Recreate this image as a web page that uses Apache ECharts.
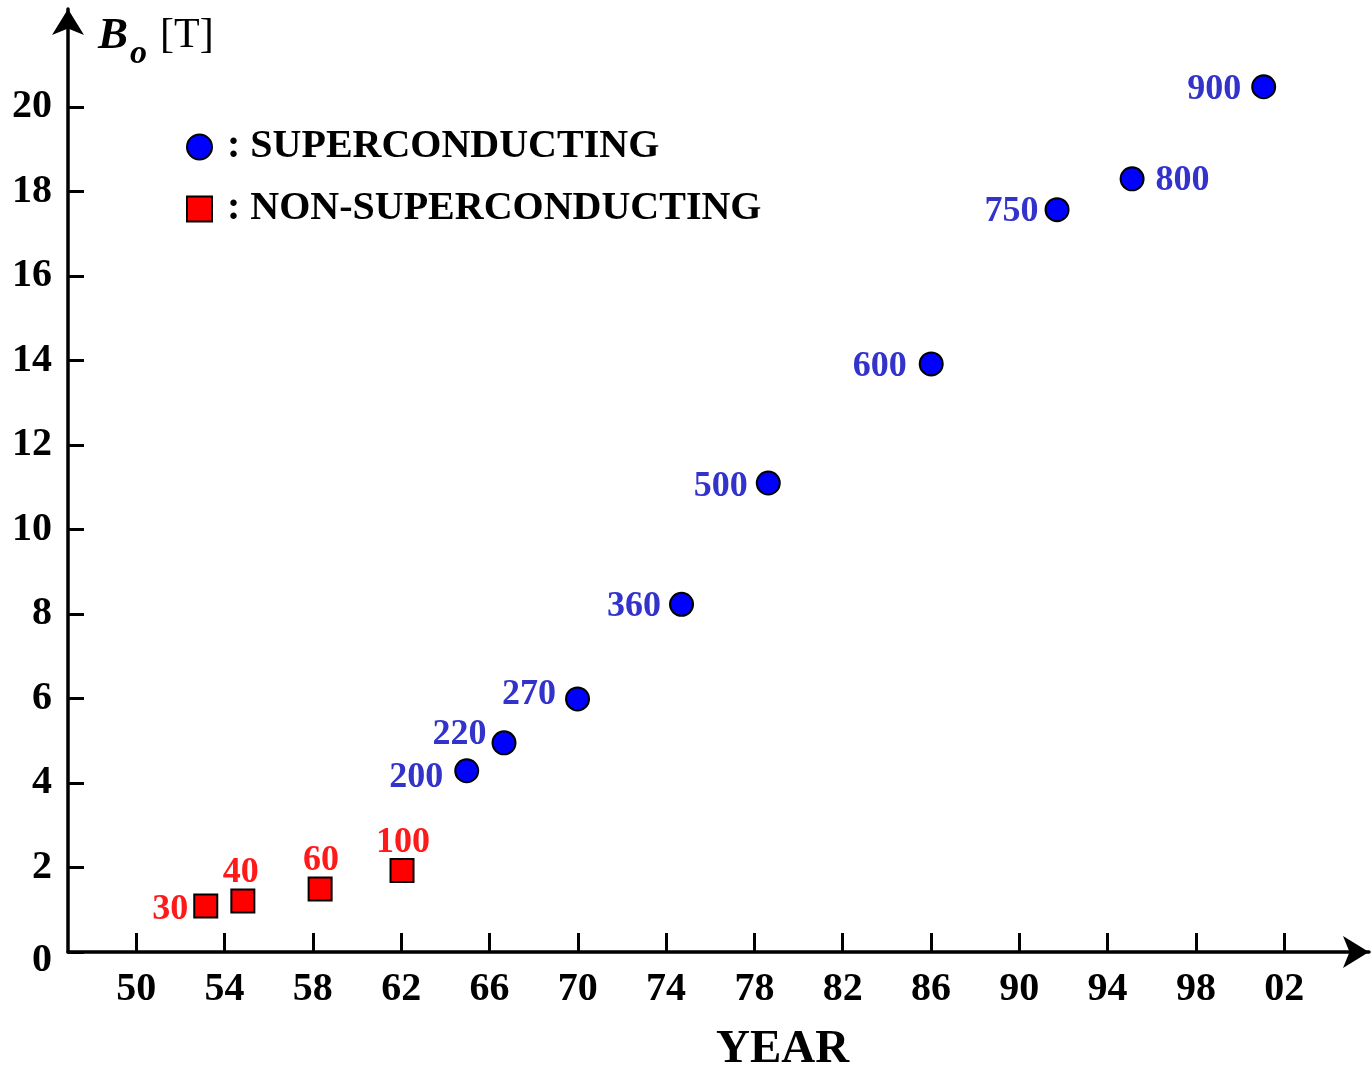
<!DOCTYPE html>
<html><head><meta charset="utf-8">
<script src="https://cdn.jsdelivr.net/npm/echarts@6/dist/echarts.min.js"></script>
<style>html,body{margin:0;padding:0;background:#fff}#c{width:1372px;height:1067px}</style>
</head><body><div id="c"></div>
<script>
// ---- data ----
const scYears  = [1964.97, 1966.66, 1969.99, 1974.70, 1978.63, 1986.01, 1991.71, 1995.11, 2001.07];
const scField  = [4.29, 4.95, 5.99, 8.23, 11.10, 13.92, 17.57, 18.30, 20.48];
const scEnergy = [200, 220, 270, 360, 500, 600, 750, 800, 900];
const ncYears  = [1953.15, 1954.83, 1958.33, 1962.04];
const ncField  = [1.09, 1.21, 1.49, 1.93];
const ncEnergy = [30, 40, 60, 100];
const xTicks = [1950, 1954, 1958, 1962, 1966, 1970, 1974, 1978, 1982, 1986, 1990, 1994, 1998, 2002];
const yTicks = [0, 2, 4, 6, 8, 10, 12, 14, 16, 18, 20];
const seriesNames = ['SUPERCONDUCTING', 'NON-SUPERCONDUCTING'];

// ---- label placement (style only): [position, distance, dx, dy] ----
const scLabelPlace = [['left',11,0,7],['left',5,0,-8],['left',9,0,-4],['left',8,0,2],['left',8,0,4],['left',12,0,3],['left',6,0,2],['right',11,0,2],['left',10,0,3]];
const ncLabelPlace = [['left',5,0,4],['top',-2,-2,0],['top',-2,1,0],['top',-3,1,0]];

const FONT = "'Liberation Serif','Times New Roman',serif";
function build(years, field, energy, place) {
  return years.map((y, i) => ({
    value: [y, field[i], energy[i]],
    label: { position: place[i][0], distance: place[i][1], offset: [place[i][2], place[i][3]] }
  }));
}
const chart = echarts.init(document.getElementById('c'), null, {renderer: 'canvas'});
const axisLine = { show: true, symbol: ['none', 'arrow'], symbolSize: [24, 26], lineStyle: { color: '#000', width: 3.5 } };
chart.setOption({
  animation: false,
  backgroundColor: '#fff',
  grid: { left: 68, right: 3, top: 9, bottom: 115, containLabel: false },
  xAxis: {
    type: 'value', min: 1946.91, max: 2005.84,
    axisLine: axisLine,
    axisTick: { show: true, inside: true, length: 19, customValues: xTicks, lineStyle: { color: '#000', width: 3 } },
    axisLabel: { customValues: xTicks, margin: 18, fontSize: 40, fontWeight: 'bold', fontFamily: FONT, color: '#000',
      formatter: v => String(Math.round(v) % 100).padStart(2, '0') },
    splitLine: { show: false }
  },
  yAxis: {
    type: 'value', min: 0, max: 22.32,
    axisLine: axisLine,
    axisTick: { show: true, inside: true, length: 16, customValues: yTicks, lineStyle: { color: '#000', width: 3 } },
    axisLabel: { customValues: yTicks, margin: 16, fontSize: 40, fontWeight: 'bold', fontFamily: FONT, color: '#000',
      formatter: v => v === 0 ? '{z|0}' : String(v),
      rich: { z: { fontSize: 40, fontWeight: 'bold', fontFamily: FONT, color: '#000', padding: [18, 0, 0, 0] } } },
    splitLine: { show: false }
  },
  legend: {
    orient: 'vertical', left: 181, top: 122, itemWidth: 25, itemHeight: 25, itemGap: 22,
    data: [{ name: seriesNames[0], icon: 'circle' }, { name: seriesNames[1], icon: 'rect' }],
    formatter: ': {name}',
    textStyle: { fontFamily: FONT, fontWeight: 'bold', fontSize: 40, lineHeight: 40, color: '#000', padding: [0, 0, 0, 10] }
  },
  graphic: [
    { type: 'text', left: 98, top: 14, style: { text: 'B', font: "italic bold 45px 'Liberation Serif'", fill: '#000' } },
    { type: 'text', left: 130, top: 37, style: { text: 'o', font: "italic bold 34px 'Liberation Serif'", fill: '#000' } },
    { type: 'text', left: 160, top: 15, style: { text: '[T]', font: "42px 'Liberation Serif'", fill: '#000' } },
    { type: 'text', left: 716, top: 1026, style: { text: 'YEAR', font: "bold 47px 'Liberation Serif'", fill: '#000' } }
  ],
  series: [
    {
      name: seriesNames[0], type: 'scatter', symbol: 'circle', symbolSize: 23,
      itemStyle: { color: '#0000ff', borderColor: '#000', borderWidth: 2, opacity: 1 },
      label: { show: true, formatter: p => p.value[2], fontFamily: FONT, fontWeight: 'bold', fontSize: 36, color: '#3333cc' },
      data: build(scYears, scField, scEnergy, scLabelPlace)
    },
    {
      name: seriesNames[1], type: 'scatter', symbol: 'rect', symbolSize: 23,
      itemStyle: { color: '#ff0000', borderColor: '#000', borderWidth: 2, opacity: 1 },
      label: { show: true, formatter: p => p.value[2], fontFamily: FONT, fontWeight: 'bold', fontSize: 36, color: '#ff1a1a' },
      data: build(ncYears, ncField, ncEnergy, ncLabelPlace)
    }
  ]
});
</script></body></html>
